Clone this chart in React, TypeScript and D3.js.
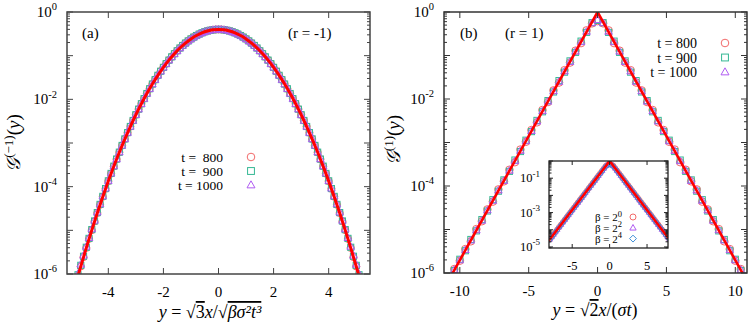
import React from 'react';
import { scaleLinear, scaleLog, line, curveCatmullRom, curveLinear } from 'd3';

// ---------- panel (a), r = -1 ----------
const gridA = [-5.1,-5,-4.9,-4.8,-4.7,-4.6,-4.5,-4.4,-4.3,-4.2,-4.1,-4,-3.9,-3.8,-3.7,-3.6,-3.5,-3.4,-3.3,-3.2,-3.1,-3,-2.9,-2.8,-2.7,-2.6,-2.5,-2.4,-2.3,-2.2,-2.1,-2,-1.9,-1.8,-1.7,-1.6,-1.5,-1.4,-1.3,-1.2,-1.1,-1,-0.9,-0.8,-0.7,-0.6,-0.5,-0.4,-0.3,-0.2,-0.1,0,0.1,0.2,0.3,0.4,0.5,0.6,0.7,0.8,0.9,1,1.1,1.2,1.3,1.4,1.5,1.6,1.7,1.8,1.9,2,2.1,2.2,2.3,2.4,2.5,2.6,2.7,2.8,2.9,3,3.1,3.2,3.3,3.4,3.5,3.6,3.7,3.8,3.9,4,4.1,4.2,4.3,4.4,4.5,4.6,4.7,4.8,4.9,5,5.1]
const t800A = [8.97e-7,1.49e-6,2.44e-6,3.96e-6,6.37e-6,1.01e-5,1.60e-5,2.49e-5,3.85e-5,5.89e-5,8.93e-5,1.34e-4,1.99e-4,2.92e-4,4.25e-4,6.12e-4,8.73e-4,1.23e-3,1.72e-3,2.38e-3,3.27e-3,4.43e-3,5.95e-3,7.92e-3,0.0104,0.0136,0.0175,0.0224,0.0283,0.0355,0.0440,0.0540,0.0656,0.0790,0.0940,0.1109,0.1295,0.1497,0.1714,0.1942,0.2179,0.2420,0.2661,0.2897,0.3123,0.3332,0.3521,0.3683,0.3814,0.3910,0.3970,0.3989,0.3970,0.3910,0.3814,0.3683,0.3521,0.3332,0.3123,0.2897,0.2661,0.2420,0.2179,0.1942,0.1714,0.1497,0.1295,0.1109,0.0940,0.0790,0.0656,0.0540,0.0440,0.0355,0.0283,0.0224,0.0175,0.0136,0.0104,7.92e-3,5.95e-3,4.43e-3,3.27e-3,2.38e-3,1.72e-3,1.23e-3,8.73e-4,6.12e-4,4.25e-4,2.92e-4,1.99e-4,1.34e-4,8.93e-5,5.89e-5,3.85e-5,2.49e-5,1.60e-5,1.01e-5,6.37e-6,3.96e-6,2.44e-6,1.49e-6,8.97e-7]
const t900A = [9.6e-7,1.58e-6,2.55e-6,4.1e-6,6.55e-6,1.04e-5,1.64e-5,2.55e-5,3.93e-5,6.0e-5,9.05e-5,1.36e-4,2.01e-4,2.95e-4,4.29e-4,6.17e-4,8.79e-4,1.24e-3,1.73e-3,2.39e-3,3.28e-3,4.44e-3,5.96e-3,7.93e-3,0.0104,0.0136,0.0175,0.0224,0.0283,0.0355,0.0440,0.0540,0.0656,0.0790,0.0940,0.1108,0.1294,0.1496,0.1713,0.1941,0.2178,0.2419,0.2660,0.2896,0.3122,0.3331,0.3520,0.3682,0.3813,0.3909,0.3969,0.3988,0.3969,0.3909,0.3813,0.3682,0.3520,0.3331,0.3122,0.2896,0.2660,0.2419,0.2178,0.1941,0.1713,0.1496,0.1294,0.1108,0.0940,0.0790,0.0656,0.0540,0.0440,0.0355,0.0283,0.0224,0.0175,0.0136,0.0104,7.93e-3,5.96e-3,4.44e-3,3.28e-3,2.39e-3,1.73e-3,1.24e-3,8.79e-4,6.17e-4,4.29e-4,2.95e-4,2.01e-4,1.36e-4,9.05e-5,6.0e-5,3.93e-5,2.55e-5,1.64e-5,1.04e-5,6.55e-6,4.1e-6,2.55e-6,1.58e-6,9.6e-7]
const t1000A = [1.02e-6,1.66e-6,2.66e-6,4.25e-6,6.75e-6,1.07e-5,1.68e-5,2.6e-5,4.0e-5,6.08e-5,9.16e-5,1.37e-4,2.03e-4,2.97e-4,4.31e-4,6.2e-4,8.82e-4,1.24e-3,1.73e-3,2.39e-3,3.28e-3,4.44e-3,5.96e-3,7.92e-3,0.0104,0.0136,0.0175,0.0224,0.0283,0.0355,0.0440,0.0540,0.0656,0.0790,0.0940,0.1108,0.1294,0.1496,0.1713,0.1941,0.2178,0.2419,0.2660,0.2896,0.3122,0.3331,0.3520,0.3682,0.3813,0.3909,0.3969,0.3988,0.3969,0.3909,0.3813,0.3682,0.3520,0.3331,0.3122,0.2896,0.2660,0.2419,0.2178,0.1941,0.1713,0.1496,0.1294,0.1108,0.0940,0.0790,0.0656,0.0540,0.0440,0.0355,0.0283,0.0224,0.0175,0.0136,0.0104,7.92e-3,5.96e-3,4.44e-3,3.28e-3,2.39e-3,1.73e-3,1.24e-3,8.82e-4,6.2e-4,4.31e-4,2.97e-4,2.03e-4,1.37e-4,9.16e-5,6.08e-5,4.0e-5,2.6e-5,1.68e-5,1.07e-5,6.75e-6,4.25e-6,2.66e-6,1.66e-6,1.02e-6]
// theory curve (red)
const fitAx = [-5.2,-5,-4.8,-4.6,-4.4,-4.2,-4,-3.8,-3.6,-3.4,-3.2,-3,-2.8,-2.6,-2.4,-2.2,-2,-1.8,-1.6,-1.4,-1.2,-1,-0.8,-0.6,-0.4,-0.2,0,0.2,0.4,0.6,0.8,1,1.2,1.4,1.6,1.8,2,2.2,2.4,2.6,2.8,3,3.2,3.4,3.6,3.8,4,4.2,4.4,4.6,4.8,5,5.2]
const fitAy = [5.37e-7,1.49e-6,3.96e-6,1.01e-5,2.49e-5,5.89e-5,1.34e-4,2.92e-4,6.12e-4,1.23e-3,2.38e-3,4.43e-3,7.92e-3,0.0136,0.0224,0.0355,0.0540,0.0790,0.1109,0.1497,0.1942,0.2420,0.2897,0.3332,0.3683,0.3910,0.3989,0.3910,0.3683,0.3332,0.2897,0.2420,0.1942,0.1497,0.1109,0.0790,0.0540,0.0355,0.0224,0.0136,7.92e-3,4.43e-3,2.38e-3,1.23e-3,6.12e-4,2.92e-4,1.34e-4,5.89e-5,2.49e-5,1.01e-5,3.96e-6,1.49e-6,5.37e-7]
const ticksAx = [-4, -2, 0, 2, 4]

// ---------- panel (b), r = 1 ----------
const gridB = [-10.8,-10.4,-10,-9.6,-9.2,-8.8,-8.4,-8,-7.6,-7.2,-6.8,-6.4,-6,-5.6,-5.2,-4.8,-4.4,-4,-3.6,-3.2,-2.8,-2.4,-2,-1.6,-1.2,-0.8,-0.4,0,0.4,0.8,1.2,1.6,2,2.4,2.8,3.2,3.6,4,4.4,4.8,5.2,5.6,6,6.4,6.8,7.2,7.6,8,8.4,8.8,9.2,9.6,10,10.4,10.8]
const t800B = [6.98e-7,1.23e-6,1.92e-6,3.54e-6,5.36e-6,1.02e-5,1.55e-5,2.89e-5,4.38e-5,8.34e-5,1.28e-4,2.36e-4,3.53e-4,6.88e-4,1.04e-3,1.93e-3,2.91e-3,5.57e-3,8.52e-3,0.01575,0.0239,0.0459,0.0688,0.129,0.193,0.378,0.55,0.62,0.55,0.378,0.193,0.129,0.0688,0.0459,0.0239,0.01575,8.52e-3,5.57e-3,2.91e-3,1.93e-3,1.04e-3,6.88e-4,3.53e-4,2.36e-4,1.28e-4,8.34e-5,4.38e-5,2.89e-5,1.55e-5,1.02e-5,5.36e-6,3.54e-6,1.92e-6,1.23e-6,6.98e-7]
const t900B = [7.2e-7,1.14e-6,2.07e-6,3.25e-6,5.9e-6,9.3e-6,1.69e-5,2.66e-5,4.85e-5,7.6e-5,1.38e-4,2.17e-4,3.95e-4,6.2e-4,1.13e-3,1.78e-3,3.22e-3,5.08e-3,9.2e-3,0.0145,0.0265,0.0414,0.0752,0.118,0.214,0.34,0.57,0.64,0.57,0.34,0.214,0.118,0.0752,0.0414,0.0265,0.0145,9.2e-3,5.08e-3,3.22e-3,1.78e-3,1.13e-3,6.2e-4,3.95e-4,2.17e-4,1.38e-4,7.6e-5,4.85e-5,2.66e-5,1.69e-5,9.3e-6,5.9e-6,3.25e-6,2.07e-6,1.14e-6,7.2e-7]
const t1000B = [6.9e-7,1.19e-6,1.98e-6,3.4e-6,5.65e-6,9.7e-6,1.61e-5,2.78e-5,4.62e-5,7.95e-5,1.32e-4,2.27e-4,3.77e-4,6.5e-4,1.08e-3,1.86e-3,3.07e-3,5.3e-3,8.8e-3,0.0152,0.0251,0.0434,0.0718,0.124,0.205,0.355,0.56,0.66,0.56,0.355,0.205,0.124,0.0718,0.0434,0.0251,0.0152,8.8e-3,5.3e-3,3.07e-3,1.86e-3,1.08e-3,6.5e-4,3.77e-4,2.27e-4,1.32e-4,7.95e-5,4.62e-5,2.78e-5,1.61e-5,9.7e-6,5.65e-6,3.4e-6,1.98e-6,1.19e-6,6.9e-7]
const fitBx = [-11.5, 0, 11.5]
const fitBy = [2.75e-7, 1, 2.75e-7]
const ticksBx = [-10, -5, 0, 5, 10]

// ---------- inset of (b), different beta ----------
const gridI = [-8,-7.75,-7.5,-7.25,-7,-6.75,-6.5,-6.25,-6,-5.75,-5.5,-5.25,-5,-4.75,-4.5,-4.25,-4,-3.75,-3.5,-3.25,-3,-2.75,-2.5,-2.25,-2,-1.75,-1.5,-1.25,-1,-0.75,-0.5,-0.25,0,0.25,0.5,0.75,1,1.25,1.5,1.75,2,2.25,2.5,2.75,3,3.25,3.5,3.75,4,4.25,4.5,4.75,5,5.25,5.5,5.75,6,6.25,6.5,6.75,7,7.25,7.5,7.75,8]
const beta0 = [2.75e-5,3.82e-5,5.31e-5,7.37e-5,1.02e-4,1.42e-4,1.97e-4,2.74e-4,3.80e-4,5.28e-4,7.33e-4,1.02e-3,1.41e-3,1.96e-3,2.72e-3,3.78e-3,5.25e-3,7.29e-3,0.01012,0.01404,0.0195,0.0271,0.0376,0.0522,0.0724,0.1006,0.140,0.194,0.269,0.374,0.519,0.60,0.70,0.60,0.519,0.374,0.269,0.194,0.140,0.1006,0.0724,0.0522,0.0376,0.0271,0.0195,0.01404,0.01012,7.29e-3,5.25e-3,3.78e-3,2.72e-3,1.96e-3,1.41e-3,1.02e-3,7.33e-4,5.28e-4,3.80e-4,2.74e-4,1.97e-4,1.42e-4,1.02e-4,7.37e-5,5.31e-5,3.82e-5,2.75e-5]
const beta2 = [2.83e-5,3.93e-5,5.47e-5,7.59e-5,1.05e-4,1.46e-4,2.03e-4,2.82e-4,3.91e-4,5.44e-4,7.55e-4,1.05e-3,1.45e-3,2.02e-3,2.8e-3,3.89e-3,5.41e-3,7.51e-3,0.01042,0.01446,0.0201,0.0279,0.0387,0.0538,0.0746,0.1036,0.144,0.2,0.277,0.385,0.535,0.62,0.72,0.62,0.535,0.385,0.277,0.2,0.144,0.1036,0.0746,0.0538,0.0387,0.0279,0.0201,0.01446,0.01042,7.51e-3,5.41e-3,3.89e-3,2.8e-3,2.02e-3,1.45e-3,1.05e-3,7.55e-4,5.44e-4,3.91e-4,2.82e-4,2.03e-4,1.46e-4,1.05e-4,7.59e-5,5.47e-5,3.93e-5,2.83e-5]
const beta4 = [2.67e-5,3.71e-5,5.15e-5,7.15e-5,9.89e-5,1.38e-4,1.91e-4,2.66e-4,3.69e-4,5.12e-4,7.11e-4,9.89e-4,1.37e-3,1.9e-3,2.64e-3,3.67e-3,5.09e-3,7.07e-3,9.82e-3,0.01362,0.0189,0.0263,0.0365,0.0506,0.0702,0.0976,0.136,0.188,0.261,0.363,0.503,0.58,0.68,0.58,0.503,0.363,0.261,0.188,0.136,0.0976,0.0702,0.0506,0.0365,0.0263,0.0189,0.01362,9.82e-3,7.07e-3,5.09e-3,3.67e-3,2.64e-3,1.9e-3,1.37e-3,9.89e-4,7.11e-4,5.12e-4,3.69e-4,2.66e-4,1.91e-4,1.38e-4,9.89e-5,7.15e-5,5.15e-5,3.71e-5,2.67e-5]
const fitIx = [-8.5, 0, 8.5]
const fitIy = [1.41e-5, 1, 1.41e-5]
const ticksIx = [-5, 0, 5]

const legendT = ['t =  800', 't =  900', 't = 1000']
const legendTb = ['t = 800', 't = 900', 't = 1000']
const legendBeta = ['0', '2', '4']

const colors = { circle: '#f26a6a', square: '#35b894', triangle: '#b05cf2', diamond: '#3f8fd8' }
const FONT = '"Liberation Serif", "Times New Roman", serif'

function Mark({ kind, x, y, s }) {
  const c = colors[kind]
  const st = { fill: 'none', stroke: c, strokeWidth: 1 }
  if (kind === 'circle') return <circle cx={x} cy={y} r={s} style={st} />
  if (kind === 'square') return <rect x={x - s * 0.9} y={y - s * 0.9} width={s * 1.8} height={s * 1.8} style={st} />
  if (kind === 'triangle') return <path d={`M${x},${y - s * 1.1}L${x + s * 1.05},${y + s * 0.75}L${x - s * 1.05},${y + s * 0.75}Z`} style={st} />
  return <path d={`M${x},${y - s * 1.15}L${x + s * 1.15},${y}L${x},${y + s * 1.15}L${x - s * 1.15},${y}Z`} style={st} />
}

function Series({ xs, ys, x, y, kind, s }) {
  return (
    <g>
      {xs.map((v, i) => <Mark key={i} kind={kind} x={x(v)} y={y(ys[i])} s={s} />)}
    </g>
  )
}

// frame + inside ticks (mirrored on all sides) for a lin-x / log-y panel
function Frame({ x, y, xticks, labeled, fs, supFs, majorLen, minorLen, xLabelDy, yLabelDx, stroke, sw }) {
  const [x0, x1] = x.range()
  const [y1, y0] = y.range()
  const [lo, hi] = y.domain()
  const e0 = Math.floor(Math.log10(lo)), e1 = Math.ceil(Math.log10(hi))
  const marks = []
  for (let e = e0; e <= e1; e++) {
    for (let m = 1; m <= 9; m++) {
      const v = m * Math.pow(10, e)
      if (v < lo * 0.999 || v > hi * 1.001) continue
      const len = m === 1 ? majorLen : minorLen
      const py = y(v)
      marks.push(<line key={`l${e}${m}`} x1={x0} x2={x0 + len} y1={py} y2={py} stroke={stroke} strokeWidth={1} />)
      marks.push(<line key={`r${e}${m}`} x1={x1} x2={x1 - len} y1={py} y2={py} stroke={stroke} strokeWidth={1} />)
    }
  }
  return (
    <g fontFamily={FONT}>
      <rect x={x0} y={y0} width={x1 - x0} height={y1 - y0} fill="none" stroke={stroke} strokeWidth={sw} />
      {marks}
      {xticks.map(t => (
        <g key={t}>
          <line x1={x(t)} x2={x(t)} y1={y1} y2={y1 - majorLen} stroke={stroke} />
          <line x1={x(t)} x2={x(t)} y1={y0} y2={y0 + majorLen} stroke={stroke} />
          <text x={x(t)} y={y1 + xLabelDy} textAnchor="middle" fontSize={fs}>{t < 0 ? `-${-t}` : t}</text>
        </g>
      ))}
      {labeled.map(e => (
        <text key={e} x={x0 - yLabelDx} y={y(Math.pow(10, e)) + fs * 0.33} textAnchor="end" fontSize={fs}>
          10<tspan dy={-fs * 0.45} fontSize={supFs}>{e < 0 ? `-${-e}` : e}</tspan>
        </text>
      ))}
    </g>
  )
}

export default function App() {
  // panel (a)
  const xA = scaleLinear().domain([-5.5, 5.5]).range([67, 370])
  const yA = scaleLog().domain([1e-6, 1]).range([274, 12])
  // panel (b)
  const xB = scaleLinear().domain([-11.15, 10.85]).range([444, 747])
  const yB = scaleLog().domain([1e-6, 1]).range([273, 12])
  // inset
  const xI = scaleLinear().domain([-8.1, 7.8]).range([549, 668])
  const yI = scaleLog().domain([Math.pow(10, -5.06), 1]).range([248, 161])

  const fitA = line().x((d, i) => xA(fitAx[i])).y(d => yA(d)).curve(curveCatmullRom)
  const fitB = line().x((d, i) => xB(fitBx[i])).y(d => yB(d)).curve(curveLinear)
  const fitI = line().x((d, i) => xI(fitIx[i])).y(d => yI(d)).curve(curveLinear)

  const kindsT = ['circle', 'square', 'triangle']
  const kindsBeta = ['circle', 'triangle', 'diamond']

  return (
    <svg width={748} height={327} style={{ position: 'absolute', left: 0, top: 0, background: '#fff' }}>
      <defs>
        <clipPath id="cA"><rect x={67} y={12} width={303} height={262} /></clipPath>
        <clipPath id="cB"><rect x={444} y={12} width={303} height={261} /></clipPath>
        <clipPath id="cI"><rect x={549} y={161} width={119} height={87} /></clipPath>
      </defs>

      {/* ---- (a) ---- */}
      <g clipPath="url(#cA)">
        <Series xs={gridA} ys={t800A} x={xA} y={yA} kind="circle" s={3.6} />
        <Series xs={gridA} ys={t900A} x={xA} y={yA} kind="square" s={3.4} />
        <Series xs={gridA} ys={t1000A} x={xA} y={yA} kind="triangle" s={3.6} />
        <path d={fitA(fitAy)} fill="none" stroke="#ff0000" strokeWidth={3} />
      </g>
      <Frame x={xA} y={yA} xticks={ticksAx} labeled={[0, -2, -4, -6]} fs={15} supFs={10.5}
        majorLen={6} minorLen={3} xLabelDy={23} yLabelDx={10} stroke="#444" sw={1.5} />
      <g fontFamily={FONT} fontSize={15}>
        <text x={82} y={38}>(a)</text>
        <text x={288} y={38}>(r = -1)</text>
        {legendT.map((s, i) => (
          <g key={s}>
            <text x={223} y={161.5 + i * 14} textAnchor="end" style={{ whiteSpace: 'pre' }} fontSize={13.5}>{s}</text>
            <Mark kind={kindsT[i]} x={251} y={157 + i * 14} s={3.8} />
          </g>
        ))}
      </g>

      {/* ---- (b) ---- */}
      <g clipPath="url(#cB)">
        <Series xs={gridB} ys={t800B} x={xB} y={yB} kind="circle" s={3.8} />
        <Series xs={gridB} ys={t900B} x={xB} y={yB} kind="square" s={3.4} />
        <Series xs={gridB} ys={t1000B} x={xB} y={yB} kind="triangle" s={3.6} />
        <path d={fitB(fitBy)} fill="none" stroke="#ff0000" strokeWidth={2.6} />
      </g>
      <Frame x={xB} y={yB} xticks={ticksBx} labeled={[0, -2, -4, -6]} fs={15} supFs={10.5}
        majorLen={6} minorLen={3} xLabelDy={23} yLabelDx={10} stroke="#333" sw={1.5} />
      <g fontFamily={FONT} fontSize={15}>
        <text x={460} y={38}>(b)</text>
        <text x={505} y={38}>(r = 1)</text>
        {legendTb.map((s, i) => (
          <g key={s}>
            <text x={697} y={48 + i * 14.5} textAnchor="end" fontSize={14}>{s}</text>
            <Mark kind={kindsT[i]} x={725} y={43 + i * 14.5} s={3.8} />
          </g>
        ))}
      </g>

      {/* ---- inset ---- */}
      <rect x={549} y={161} width={119} height={87} fill="#fff" />
      <g clipPath="url(#cI)">
        <Series xs={gridI} ys={beta0} x={xI} y={yI} kind="circle" s={2.6} />
        <Series xs={gridI} ys={beta2} x={xI} y={yI} kind="triangle" s={2.6} />
        <Series xs={gridI} ys={beta4} x={xI} y={yI} kind="diamond" s={2.4} />
        <path d={fitI(fitIy)} fill="none" stroke="#ff0000" strokeWidth={2.6} />
      </g>
      <Frame x={xI} y={yI} xticks={ticksIx} labeled={[-1, -3, -5]} fs={12.5} supFs={9}
        majorLen={4} minorLen={2.5} xLabelDy={22} yLabelDx={9} stroke="#222" sw={1.3} />
      <g fontFamily={FONT} fontSize={11}>
        {legendBeta.map((p, i) => (
          <g key={p}>
            <text x={622} y={221 + i * 10.8} textAnchor="end">β = 2<tspan dy={-4.5} fontSize={8.5}>{p}</tspan></text>
            <Mark kind={kindsBeta[i]} x={633} y={217 + i * 10.8} s={3} />
          </g>
        ))}
      </g>

      {/* ---- axis titles ---- */}
      <g fontFamily={FONT}>
        <text transform="translate(20,143) rotate(-90)" textAnchor="middle" fontSize={19}>
          <tspan fontStyle="italic">𝒢</tspan><tspan dy={-7} fontSize={13}>(−1)</tspan><tspan dy={7}>(</tspan><tspan fontStyle="italic">y</tspan>)
        </text>
        <text transform="translate(400,140) rotate(-90)" textAnchor="middle" fontSize={19}>
          <tspan fontStyle="italic">𝒢</tspan><tspan dy={-7} fontSize={13}>(1)</tspan><tspan dy={7}>(</tspan><tspan fontStyle="italic">y</tspan>)
        </text>
        <text x={210} y={318} textAnchor="middle" fontSize={18}>
          <tspan fontStyle="italic">y</tspan> = √<tspan style={{ textDecoration: 'overline' }}>3</tspan><tspan fontStyle="italic">x</tspan>/√<tspan fontStyle="italic" style={{ textDecoration: 'overline' }}>βσ²t³</tspan>
        </text>
        <text x={595} y={316} textAnchor="middle" fontSize={18}>
          <tspan fontStyle="italic">y</tspan> = √<tspan style={{ textDecoration: 'overline' }}>2</tspan><tspan fontStyle="italic">x</tspan>/(<tspan fontStyle="italic">σt</tspan>)
        </text>
      </g>
    </svg>
  )
}
